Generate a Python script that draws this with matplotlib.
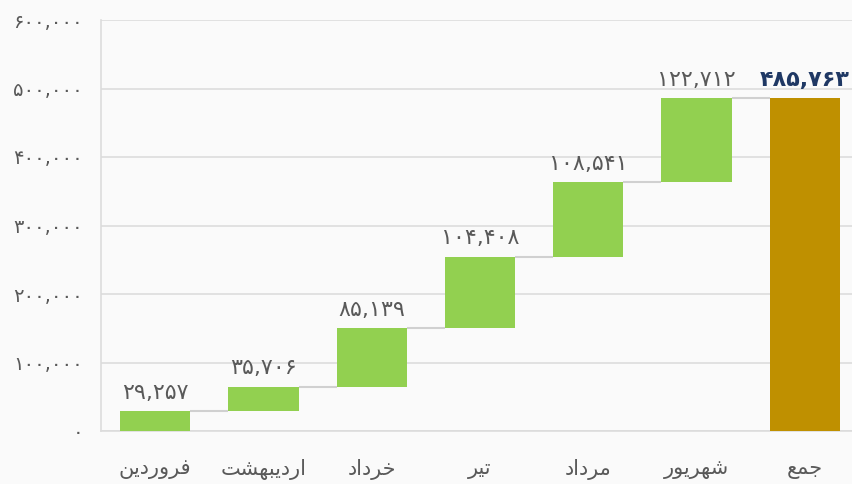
import matplotlib
matplotlib.use("Agg")
import matplotlib.pyplot as plt
from matplotlib import font_manager
from matplotlib.ft2font import FT2Font

# ---------------- data ----------------
categories = ["فروردین", "اردیبهشت", "خرداد", "تیر", "مرداد", "شهریور", "جمع"]
monthly_values = [29257, 35706, 85139, 104408, 108541, 122712]
total_value = 485763
y_ticks = [0, 100000, 200000, 300000, 400000, 500000, 600000]

# ---------------- minimal Arabic-script shaping ----------------
font_path = font_manager.findfont("DejaVu Sans")
charmap = FT2Font(font_path).get_charmap()

def has(ch):
    return ord(ch) in charmap

FORMS = {
    'ا': ('\uFE8D', '\uFE8E', None, None),
    'ب': ('\uFE8F', '\uFE90', '\uFE91', '\uFE92'),
    'ت': ('\uFE95', '\uFE96', '\uFE97', '\uFE98'),
    'ج': ('\uFE9D', '\uFE9E', '\uFE9F', '\uFEA0'),
    'خ': ('\uFEA5', '\uFEA6', '\uFEA7', '\uFEA8'),
    'د': ('\uFEA9', '\uFEAA', None, None),
    'ر': ('\uFEAD', '\uFEAE', None, None),
    'ش': ('\uFEB5', '\uFEB6', '\uFEB7', '\uFEB8'),
    'ع': ('\uFEC9', '\uFECA', '\uFECB', '\uFECC'),
    'ف': ('\uFED1', '\uFED2', '\uFED3', '\uFED4'),
    'م': ('\uFEE1', '\uFEE2', '\uFEE3', '\uFEE4'),
    'ن': ('\uFEE5', '\uFEE6', '\uFEE7', '\uFEE8'),
    'ه': ('\uFEE9', '\uFEEA', '\uFEEB', '\uFEEC'),
    'و': ('\uFEED', '\uFEEE', None, None),
    'ی': ('\uFBFC', '\uFBFD', '\uFBFE', '\uFBFF'),
}
YEH_FALLBACK = ('\uFEEF', '\uFEF0', '\uFEF3', '\uFEF4')


def shape(word):
    chars = list(word)
    out = []
    for i, c in enumerate(chars):
        forms = FORMS.get(c)
        if forms is None:
            out.append(c)
            continue
        prev = chars[i - 1] if i > 0 else None
        nxt = chars[i + 1] if i < len(chars) - 1 else None
        prev_joins = prev in FORMS and FORMS[prev][2] is not None
        next_joins = forms[2] is not None and nxt in FORMS
        idx = 3 if (prev_joins and next_joins) else 1 if prev_joins else 2 if next_joins else 0
        g = forms[idx]
        if not has(g) and c == 'ی':
            g = YEH_FALLBACK[idx]
        out.append(g)
    return "".join(reversed(out))


PERSIAN_DIGITS = str.maketrans("0123456789", "۰۱۲۳۴۵۶۷۸۹")

def fa_num(v):
    return f"{v:,}".translate(PERSIAN_DIGITS)

# ---------------- figure ----------------
plt.rcParams['font.family'] = ['DejaVu Sans']
fig = plt.figure(figsize=(8.52, 4.84), dpi=100)
fig.patch.set_facecolor("#fafafa")
ax = fig.add_axes([101 / 852, 1 - 431 / 484, (859 - 101) / 852, 411 / 484])
ax.set_facecolor("#fafafa")

green = "#92d050"
gold = "#bf9000"
label_gray = "#595959"
grid_gray = "#dcdcdc"

bar_w = 0.65
xs = list(range(len(categories)))
bottoms = []
running = 0
for v in monthly_values:
    bottoms.append(running)
    running += v

ax.bar(xs[:-1], monthly_values, bottom=bottoms, width=bar_w, color=green, zorder=3)
ax.bar(xs[-1], total_value, width=bar_w, color=gold, zorder=3)

# connector lines
tops = [b + v for b, v in zip(bottoms, monthly_values)]
for i, t in enumerate(tops):
    ax.plot([xs[i] + bar_w / 2, xs[i + 1] - bar_w / 2], [t, t], color="#d0d0d0", lw=1.5, zorder=2,
            solid_capstyle="butt")

# value labels
for i, (b, v) in enumerate(zip(bottoms, monthly_values)):
    ax.annotate(fa_num(v), (xs[i], b + v), xytext=(0, 6), textcoords="offset points",
                ha="center", va="bottom", fontsize=16, color=label_gray, zorder=4)
ax.annotate(fa_num(total_value), (xs[-1], total_value), xytext=(0, 6), textcoords="offset points",
            ha="center", va="bottom", fontsize=16, color="#1f3864", fontweight="bold", zorder=4)

ax.set_xlim(-0.5, len(categories) - 0.5)
ax.set_ylim(0, 600000)
ax.set_yticks(y_ticks)
ax.set_yticklabels([fa_num(t) for t in y_ticks], fontsize=14, color=label_gray)
ax.set_xticks(xs)
ax.set_xticklabels([shape(c) for c in categories], fontsize=15, color=label_gray)
ax.tick_params(axis="y", length=0, pad=13)
ax.tick_params(axis="x", length=0, pad=20)

ax.grid(axis="y", color=grid_gray, lw=1.2, zorder=0)
ax.set_axisbelow(True)
for s in ["top", "right"]:
    ax.spines[s].set_visible(False)
for s in ["left", "bottom"]:
    ax.spines[s].set_color(grid_gray)
    ax.spines[s].set_linewidth(1.2)

fig.savefig("out.png", dpi=100, facecolor=fig.get_facecolor())
